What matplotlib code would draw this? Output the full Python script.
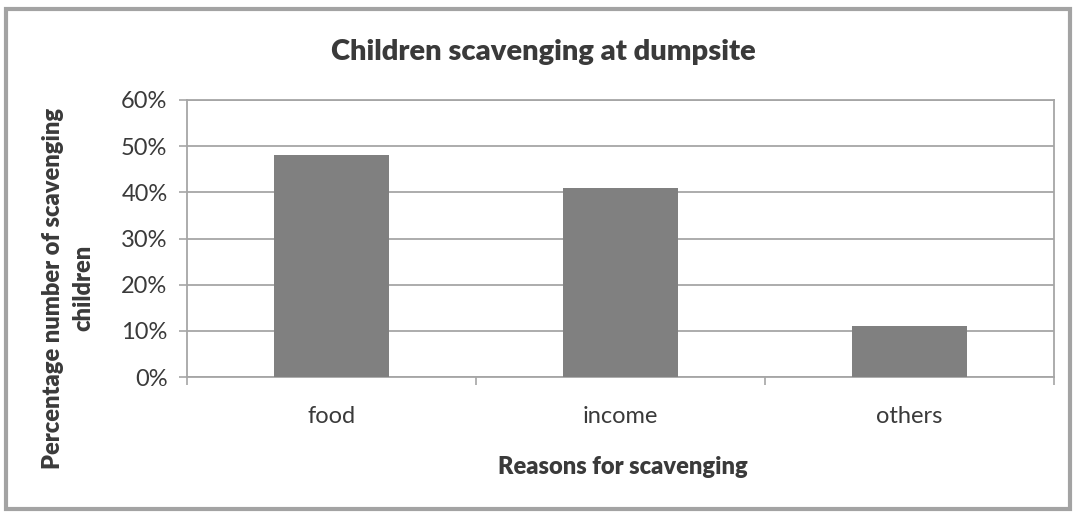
import matplotlib
matplotlib.use("Agg")
import matplotlib.pyplot as plt
from matplotlib.patches import Rectangle
from matplotlib.ticker import FixedLocator, NullFormatter

plt.rcParams['font.family'] = ['Lato', 'DejaVu Sans']

categories = ["food", "income", "others"]
percentages = [48, 41, 11]
y_ticks = [0, 10, 20, 30, 40, 50, 60]
y_tick_labels = ["0%", "10%", "20%", "30%", "40%", "50%", "60%"]

TEXT = "#3a3a3a"
LINE = "#a6a6a6"

fig = plt.figure(figsize=(10.76, 5.15), dpi=100)
fig.patch.set_facecolor("white")

# outer chart frame
fig.patches.append(Rectangle((6 / 1076, 6 / 515), 1064 / 1076, 500 / 515,
                             transform=fig.transFigure, fill=False,
                             edgecolor="#a3a3a3", linewidth=3))

ax = fig.add_axes([187 / 1076, 1 - 377 / 515, (1054 - 187) / 1076, (377 - 100) / 515])
ax.set_facecolor("white")
x = list(range(len(categories)))
ax.bar(x, percentages, width=0.40, color="#808080", zorder=3)

ax.set_xlim(-0.5, len(categories) - 0.5)
ax.set_ylim(0, 60)
ax.set_yticks(y_ticks)
ax.set_yticklabels(y_tick_labels, fontsize=17, color=TEXT)
ax.yaxis.grid(True, color=LINE, linewidth=1.3, zorder=0)

ax.xaxis.set_major_locator(FixedLocator([-0.5, 0.5, 1.5, 2.5]))
ax.xaxis.set_major_formatter(NullFormatter())
ax.xaxis.set_minor_locator(FixedLocator(x))
ax.set_xticklabels(categories, minor=True, fontsize=17, color=TEXT)
ax.tick_params(axis="x", which="minor", length=0, pad=21)
ax.tick_params(axis="x", which="major", length=6, color=LINE, width=1.2)
ax.tick_params(axis="y", length=6, color=LINE, width=1.2, pad=8)

for side in ["left", "bottom", "right", "top"]:
    ax.spines[side].set_color(LINE)
    ax.spines[side].set_linewidth(1.3)

fig.text(623 / 1076, 1 - 467 / 515, "Reasons for scavenging", ha="center",
         va="center", fontsize=17, fontweight="heavy", color=TEXT)
fig.text(68 / 1076, 1 - 288 / 515, "Percentage number of scavenging\nchildren",
         ha="center", va="center", rotation=90, multialignment="center",
         fontsize=17, fontweight="heavy", color=TEXT, linespacing=1.45)

fig.text(543 / 1076, 1 - 52 / 515, "Children scavenging at dumpsite",
         ha="center", va="center", fontsize=21, fontweight="heavy", color=TEXT)

fig.savefig("out.png", dpi=100)
